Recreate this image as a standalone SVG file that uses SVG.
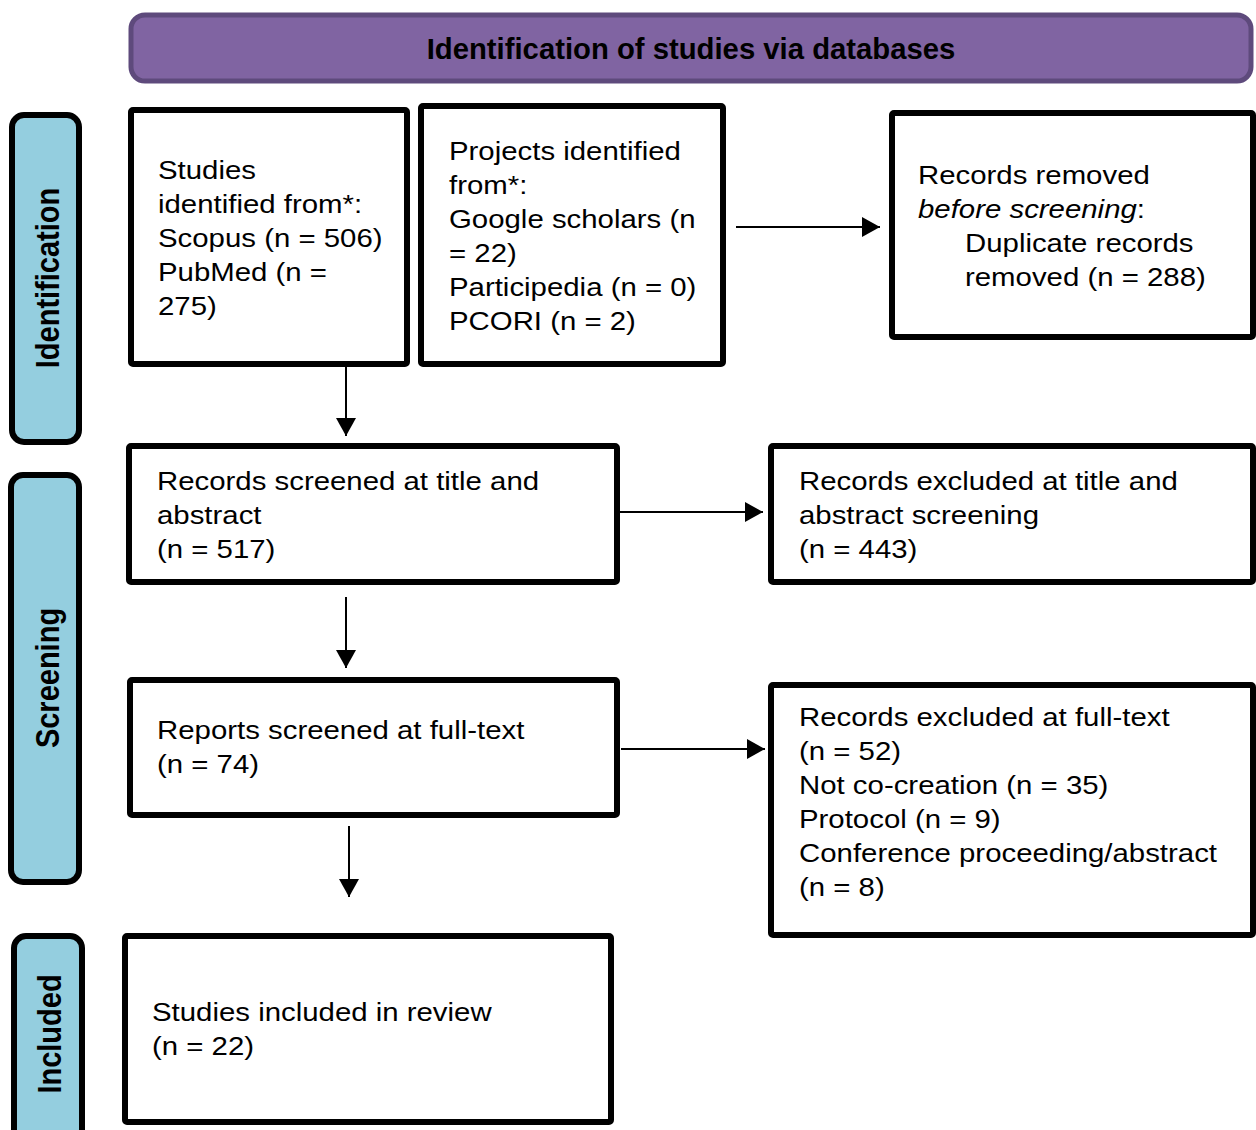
<svg xmlns="http://www.w3.org/2000/svg" width="1256" height="1130" viewBox="0 0 1256 1130">
<style>
.box{fill:#ffffff;stroke:#000000;stroke-width:6;}
.side{fill:#94CEDF;stroke:#000000;stroke-width:6;}
.t{font-family:"Liberation Sans",Arial,sans-serif;font-size:26px;fill:#000000;}
.sl{font-family:"Liberation Sans",Arial,sans-serif;font-size:29px;font-weight:bold;fill:#000000;text-anchor:middle;}
.hd{font-family:"Liberation Sans",Arial,sans-serif;font-size:29px;font-weight:bold;fill:#000000;text-anchor:middle;}
.c{stroke:#000000;stroke-width:2;fill:none;marker-end:url(#ah);}
</style>
<defs>
<marker id="ah" markerUnits="userSpaceOnUse" markerWidth="18" markerHeight="20" refX="18" refY="10" orient="auto">
<path d="M0,0 L18,10 L0,20 Z" fill="#000000"/>
</marker>
</defs>
<rect width="1256" height="1130" fill="#ffffff"/>

<g id="header">
<rect x="131" y="15" width="1120" height="66" rx="14" fill="#8064A2" stroke="#5E4A7C" stroke-width="5"/>
<text class="hd" transform="translate(691,59) scale(1.01,1)">Identification of studies via databases</text>
</g>

<g id="side-identification">
<rect class="side" x="12" y="115" width="67" height="327" rx="12"/>
<text class="sl" transform="translate(59,278) scale(1.13,1) rotate(-90)">Identification</text>
</g>
<g id="side-screening">
<rect class="side" x="11" y="475" width="68" height="407" rx="12"/>
<text class="sl" transform="translate(59,678) scale(1.13,1) rotate(-90)">Screening</text>
</g>
<g id="side-included">
<rect class="side" x="14" y="936" width="68" height="220" rx="12"/>
<text class="sl" transform="translate(61,1034) scale(1.13,1) rotate(-90)">Included</text>
</g>

<g id="studies-identified">
<rect class="box" x="131" y="110" width="276" height="254" rx="2"/>
<text class="t" transform="translate(158,179) scale(1.13,1)"><tspan x="0" y="0">Studies</tspan><tspan x="0" y="34">identified from*:</tspan><tspan x="0" y="68">Scopus (n = 506)</tspan><tspan x="0" y="102">PubMed (n =</tspan><tspan x="0" y="136">275)</tspan></text>
</g>

<g id="projects-identified">
<rect class="box" x="421" y="106" width="302" height="258" rx="2"/>
<text class="t" transform="translate(449,160) scale(1.13,1)"><tspan x="0" y="0">Projects identified</tspan><tspan x="0" y="34">from*:</tspan><tspan x="0" y="68">Google scholars (n</tspan><tspan x="0" y="102">= 22)</tspan><tspan x="0" y="136">Participedia (n = 0)</tspan><tspan x="0" y="170">PCORI (n = 2)</tspan></text>
</g>

<g id="records-removed">
<rect class="box" x="892" y="113" width="361" height="224" rx="2"/>
<text class="t" transform="translate(918,184) scale(1.13,1)"><tspan x="0" y="0">Records removed</tspan><tspan x="0" y="34"><tspan font-style="italic">before screening</tspan>:</tspan><tspan x="41.6" y="68">Duplicate records</tspan><tspan x="41.6" y="102">removed (n = 288)</tspan></text>
</g>

<g id="records-screened">
<rect class="box" x="129" y="446" width="488" height="136" rx="2"/>
<text class="t" transform="translate(157,490) scale(1.13,1)"><tspan x="0" y="0">Records screened at title and</tspan><tspan x="0" y="34">abstract</tspan><tspan x="0" y="68">(n = 517)</tspan></text>
</g>

<g id="records-excluded-title">
<rect class="box" x="771" y="446" width="482" height="136" rx="2"/>
<text class="t" transform="translate(799,490) scale(1.13,1)"><tspan x="0" y="0">Records excluded at title and</tspan><tspan x="0" y="34">abstract screening</tspan><tspan x="0" y="68">(n = 443)</tspan></text>
</g>

<g id="reports-screened">
<rect class="box" x="130" y="680" width="487" height="135" rx="2"/>
<text class="t" transform="translate(157,739) scale(1.13,1)"><tspan x="0" y="0">Reports screened at full-text</tspan><tspan x="0" y="34">(n = 74)</tspan></text>
</g>

<g id="records-excluded-fulltext">
<rect class="box" x="771" y="685" width="482" height="250" rx="2"/>
<text class="t" transform="translate(799,726) scale(1.13,1)"><tspan x="0" y="0">Records excluded at full-text</tspan><tspan x="0" y="34">(n = 52)</tspan><tspan x="0" y="68">Not co-creation (n = 35)</tspan><tspan x="0" y="102">Protocol (n = 9)</tspan><tspan x="0" y="136">Conference proceeding/abstract</tspan><tspan x="0" y="170">(n = 8)</tspan></text>
</g>

<g id="studies-included">
<rect class="box" x="125" y="936" width="486" height="186" rx="2"/>
<text class="t" transform="translate(152,1021) scale(1.13,1)"><tspan x="0" y="0">Studies included in review</tspan><tspan x="0" y="34">(n = 22)</tspan></text>
</g>

<g id="connectors">
<line class="c" x1="736" y1="227" x2="880" y2="227"/>
<line class="c" x1="346" y1="367" x2="346" y2="436"/>
<line class="c" x1="619" y1="512" x2="763" y2="512"/>
<line class="c" x1="346" y1="597" x2="346" y2="668"/>
<line class="c" x1="621" y1="749" x2="765" y2="749"/>
<line class="c" x1="349" y1="826" x2="349" y2="897"/>
</g>
</svg>
